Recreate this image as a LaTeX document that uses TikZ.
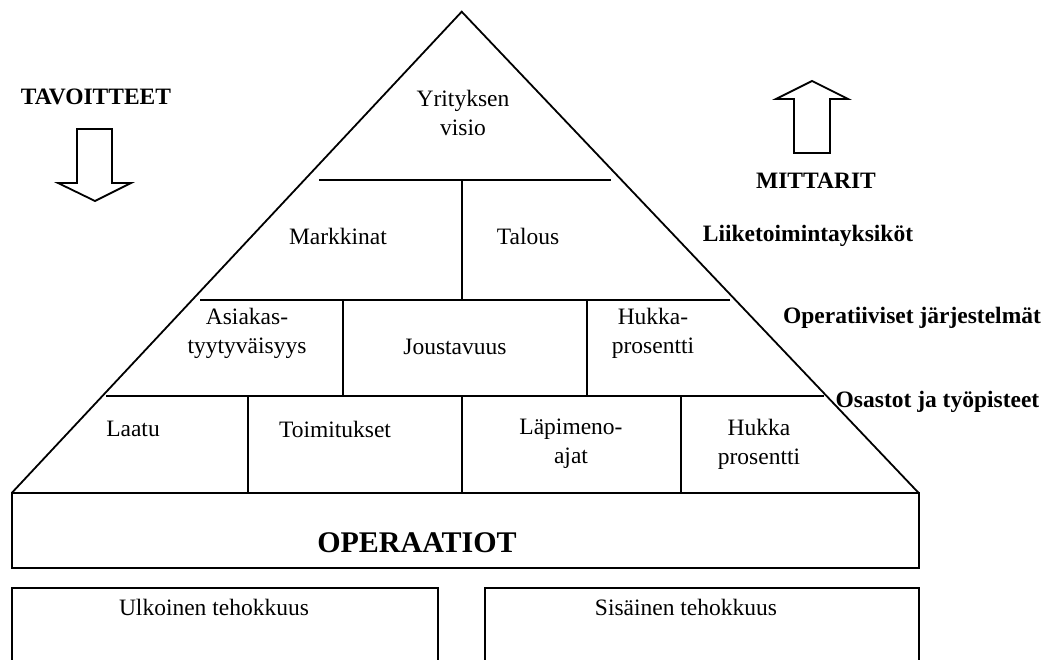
\documentclass[tikz,border=0pt]{standalone}
\usepackage{fontspec}
\setmainfont{Liberation Serif}
\begin{document}
\begin{tikzpicture}[x=1pt,y=-1pt,
  every node/.style={inner sep=0pt,font=\fontsize{23.5}{29}\selectfont},
  lbl/.style={align=center},
  side/.style={font=\fontsize{23.5}{29}\selectfont\bfseries},
  ln/.style={line width=1.8pt},
  blockarrow/.style={line width=1.8pt,line join=miter}]
\useasboundingbox (0,0) rectangle (1058,660);

% pyramid outline
\coordinate (apex) at (461.7,11.7);
\coordinate (bl) at (11.7,493);
\coordinate (br) at (918.7,493);
\draw[ln] (bl) -- (apex) -- (br);

% level dividers
\draw[ln] (319,180) -- (611,180);
\draw[ln] (200,300) -- (730,300);
\draw[ln] (106,396) -- (824,396);
\draw[ln] (461.7,180) -- (461.7,300);
\draw[ln] (343,300) -- (343,396);
\draw[ln] (587,300) -- (587,396);
\draw[ln] (248,396) -- (248,493);
\draw[ln] (461.7,396) -- (461.7,493);
\draw[ln] (681,396) -- (681,493);

% operations box and lower boxes
\draw[ln] (11.7,493) rectangle (918.7,567.7);
\draw[ln] (11.7,660) -- (11.7,587.7) -- (437.7,587.7) -- (437.7,660);
\draw[ln] (485,660) -- (485,587.7) -- (918.7,587.7) -- (918.7,660);

% block arrows
\draw[blockarrow] (77,129) -- (112,129) -- (112,183) -- (131,183) -- (95,201)
  -- (58,183) -- (77,183) -- cycle;
\draw[blockarrow] (794,153) -- (830,153) -- (830,99) -- (848,99) -- (812,81)
  -- (776,99) -- (794,99) -- cycle;

% pyramid texts
\node[lbl] (visio) at (463,113) {Yrityksen\\visio};
\node (markkinat) at (338,236) {Markkinat};
\node (talous) at (528,236) {Talous};
\node[lbl] (asiakas) at (247,333) {Asiakas-\\tyytyväisyys};
\node (joustavuus) at (455,347) {Joustavuus};
\node[lbl] (hukka1) at (653,333) {Hukka-\\prosentti};
\node (laatu) at (133,429) {Laatu};
\node (toimitukset) at (335,429) {Toimitukset};
\node[lbl] (lapimeno) at (571,444) {Läpimeno-\\ajat};
\node[lbl] (hukka2) at (759,444) {Hukka\\prosentti};
\node (operaatiot) at (417,543) {\fontsize{30}{36}\selectfont\bfseries OPERAATIOT};
\node (ulkoinen) at (214,607) {Ulkoinen tehokkuus};
\node (sisainen) at (686,607) {Sisäinen tehokkuus};

% side labels
\node[side] (tavoitteet) at (96,97) {TAVOITTEET};
\node[side] (mittarit) at (816,181) {MITTARIT};
\node[side] (liiketoiminta) at (808,236) {Liiketoimintayksiköt};
\node[side] (operatiiviset) at (912,318) {Operatiiviset järjestelmät};
\node[side] (osastot) at (937.5,402) {Osastot ja työpisteet};
\end{tikzpicture}
\end{document}
